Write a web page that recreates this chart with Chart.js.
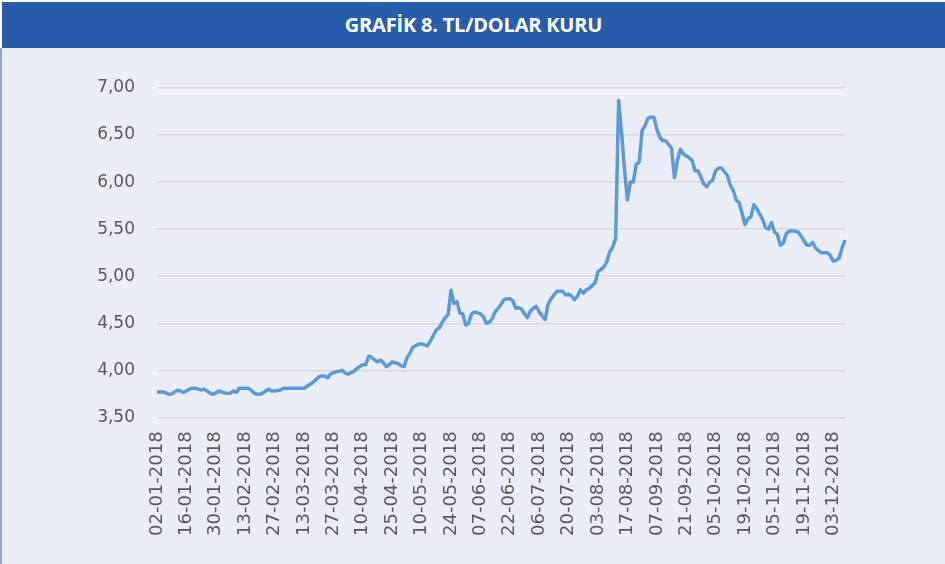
<!DOCTYPE html>
<html>
<head>
<meta charset="utf-8">
<script src="https://cdn.jsdelivr.net/npm/chart.js@4"></script>
<style>
  body { margin: 0; background: #fff; }
  #wrap { position: relative; width: 945px; height: 564px; overflow: hidden; }
  #title {
    position: absolute; left: 2px; top: 2px; width: 943px; height: 46px;
    background: #285dab; color: #fff; text-align: center;
  }
  #title span {
    display: inline-block; font-family: "Open Sans", sans-serif; font-weight: 700;
    font-size: 20px; line-height: 46px; letter-spacing: -0.2px; white-space: nowrap;
  }
  #body {
    position: absolute; left: 0; top: 48px; width: 945px; height: 516px;
    background: #eaedf6; border-left: 2px solid #8fa3c2; box-sizing: border-box;
  }
</style>
</head>
<body>
<div id="wrap">
  <div id="title"><span>GRAFİK 8. TL/DOLAR KURU</span></div>
  <div id="body"><canvas id="chart"></canvas></div>
</div>
<script>
// business days of 2018 shown in the chart, per month
const janDays = [2,3,4,5,8,9,10,11,12,15,16,17,18,19,22,23,24,25,26,29,30,31];
const febDays = [1,2,5,6,7,8,9,12,13,14,15,16,19,20,21,22,23,26,27,28];
const marDays = [1,2,5,6,7,8,9,12,13,14,15,16,19,20,21,22,23,26,27,28,29,30];
const aprDays = [2,3,4,5,6,9,10,11,12,13,16,17,18,19,20,24,25,26,27,30];
const mayDays = [2,3,4,7,8,9,10,11,14,15,16,17,18,21,22,23,24,25,28,29,30,31];
const junDays = [1,4,5,6,7,8,11,12,13,14,18,19,20,21,22,25,26,27,28,29];
const julDays = [2,3,4,5,6,9,10,11,12,13,16,17,18,19,20,23,24,25,26,27,30,31];
const augDays = [1,2,3,6,7,8,9,10,13,14,15,16,17,20,27,28,29,31];
const sepDays = [3,4,5,6,7,10,11,12,13,14,17,18,19,20,21,24,25,26,27,28];
const octDays = [1,2,3,4,5,8,9,10,11,12,15,16,17,18,19,22,23,24,25,26,30,31];
const novDays = [1,2,5,6,7,8,9,12,13,14,15,16,19,20,21,22,23,26,27,28,29,30];
const decDays = [3,4,5,6,7];

// TL/USD rate
const rates = [
  3.77, 3.77, 3.77, 3.76, 3.745, 3.75, 3.77, 3.79, 3.78, 3.765,
  3.78, 3.80, 3.81, 3.81, 3.80, 3.79, 3.80, 3.78, 3.76, 3.745,
  3.76, 3.78, 3.77, 3.76, 3.755, 3.76, 3.78, 3.765, 3.81, 3.81,
  3.81, 3.81, 3.79, 3.76, 3.745, 3.745, 3.76, 3.78, 3.80, 3.78,
  3.78, 3.785, 3.79, 3.81, 3.81, 3.81, 3.81, 3.81, 3.81, 3.81,
  3.81, 3.83, 3.85, 3.87, 3.90, 3.93, 3.94, 3.94, 3.92, 3.96,
  3.975, 3.985, 3.99, 4.00, 3.97, 3.96, 3.975, 3.99, 4.02, 4.04,
  4.06, 4.06, 4.15, 4.14, 4.11, 4.09, 4.11, 4.08, 4.04, 4.06,
  4.09, 4.08, 4.07, 4.05, 4.04, 4.13, 4.18, 4.245, 4.26, 4.28,
  4.28, 4.27, 4.26, 4.31, 4.37, 4.43, 4.45, 4.51, 4.56, 4.59,
  4.85, 4.71, 4.73, 4.61, 4.60, 4.48, 4.50, 4.60, 4.62, 4.61,
  4.60, 4.57, 4.50, 4.51, 4.55, 4.62, 4.66, 4.70, 4.75, 4.76,
  4.76, 4.74, 4.66, 4.665, 4.65, 4.60, 4.56, 4.63, 4.66, 4.68,
  4.62, 4.58, 4.54, 4.70, 4.76, 4.80, 4.84, 4.84, 4.84, 4.80,
  4.81, 4.79, 4.75, 4.79, 4.855, 4.82, 4.855, 4.87, 4.90, 4.93,
  5.05, 5.07, 5.10, 5.155, 5.26, 5.31, 5.40, 6.87, 6.53, 6.14,
  5.81, 6.00, 6.00, 6.19, 6.21, 6.55, 6.60, 6.68, 6.69, 6.69,
  6.56, 6.48, 6.44, 6.44, 6.40, 6.36, 6.05, 6.23, 6.35, 6.30,
  6.28, 6.26, 6.23, 6.12, 6.12, 6.05, 5.98, 5.95, 6.00, 6.02,
  6.12, 6.15, 6.15, 6.11, 6.07, 5.97, 5.91, 5.81, 5.78, 5.67,
  5.55, 5.61, 5.63, 5.76, 5.72, 5.66, 5.60, 5.515, 5.50, 5.57,
  5.47, 5.445, 5.33, 5.35, 5.45, 5.48, 5.48, 5.48, 5.47, 5.43,
  5.38, 5.33, 5.33, 5.36, 5.30, 5.27, 5.25, 5.25, 5.25, 5.22,
  5.16, 5.17, 5.19, 5.30, 5.385
];

const yTicks = [3.5, 4.0, 4.5, 5.0, 5.5, 6.0, 6.5, 7.0];
const labelEvery = 10;

const months = [janDays, febDays, marDays, aprDays, mayDays, junDays,
                julDays, augDays, sepDays, octDays, novDays, decDays];
const pad = n => String(n).padStart(2, '0');
const dates = [];
months.forEach((days, m) => {
  days.forEach(d => dates.push(pad(d) + '-' + pad(m + 1) + '-2018'));
});

const ctx = document.getElementById('chart');

new Chart(ctx, {
  type: 'line',
  data: {
    labels: dates,
    datasets: [{
      data: rates,
      borderColor: '#5b9bd5',
      borderWidth: 3.5,
      pointRadius: 0,
      tension: 0,
      borderJoinStyle: 'round',
      fill: false
    }]
  },
  options: {
    responsive: true,
    maintainAspectRatio: false,
    animation: false,
    layout: { padding: { top: 40, right: 100, bottom: 22, left: 0 } },
    plugins: {
      legend: { display: false },
      tooltip: { enabled: false }
    },
    scales: {
      x: {
        offset: false,
        grid: { display: false },
        border: { display: false },
        ticks: {
          autoSkip: false,
          maxRotation: 90,
          minRotation: 90,
          padding: 6,
          color: '#595959',
          font: { family: 'DejaVu Sans', size: 18 },
          callback: function(value, index) {
            return index % labelEvery === 0 ? dates[index] : '';
          }
        }
      },
      y: {
        min: 3.5,
        max: 7.0,
        afterBuildTicks: function(scale) {
          scale.ticks = yTicks.map(v => ({ value: v }));
        },
        afterFit: function(scale) {
          scale.width = 155;
        },
        grid: { color: '#d9d9d9', lineWidth: 1.5, drawTicks: false },
        border: { display: false },
        ticks: {
          padding: 22,
          color: '#595959',
          font: { family: 'DejaVu Sans', size: 17 },
          callback: function(value) {
            return value.toFixed(2).replace('.', ',');
          }
        }
      }
    }
  }
});
</script>
</body>
</html>
